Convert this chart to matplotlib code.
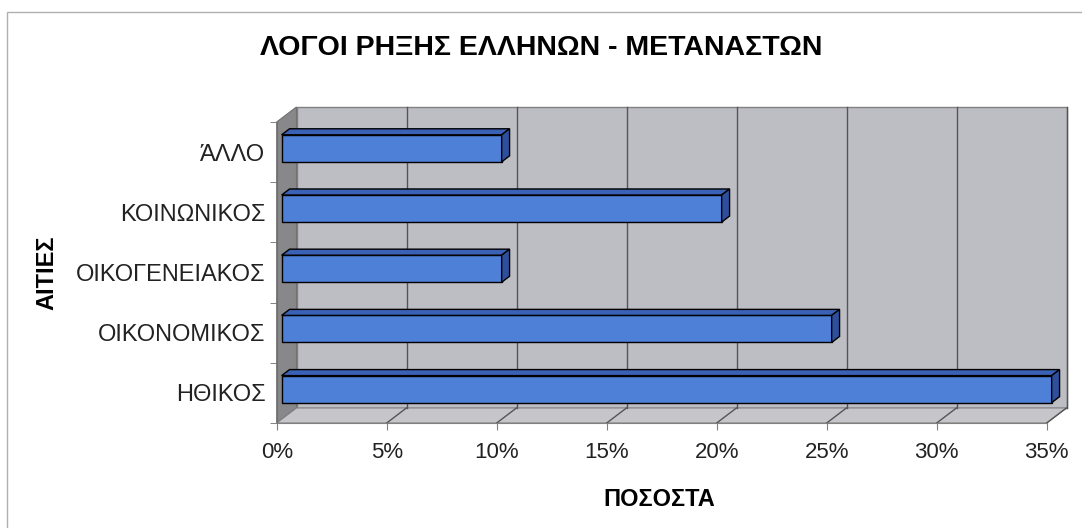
import matplotlib.pyplot as plt
from matplotlib.patches import Polygon, Rectangle

plt.rcParams['font.family'] = ['Liberation Sans', 'DejaVu Sans']

# data
categories = ['ΗΘΙΚΟΣ', 'ΟΙΚΟΝΟΜΙΚΟΣ', 'ΟΙΚΟΓΕΝΕΙΑΚΟΣ', 'ΚΟΙΝΩΝΙΚΟΣ', 'ΆΛΛΟ']
values = [35, 25, 10, 20, 10]
xticks = [0, 5, 10, 15, 20, 25, 30, 35]
xticklabels = ['0%', '5%', '10%', '15%', '20%', '25%', '30%', '35%']

title = 'ΛΟΓΟΙ ΡΗΞΗΣ ΕΛΛΗΝΩΝ - ΜΕΤΑΝΑΣΤΩΝ'
xlabel = 'ΠΟΣΟΣΤΑ'
ylabel = 'ΑΙΤΙΕΣ'

# 3d look: depth of the plot box in data units
dx, dy = 0.9, 0.25
bar_h = 0.45
b0, b1 = 0.25, 0.65   # bar front / back depth fractions

fig = plt.figure(figsize=(10.82, 5.28), dpi=100)
fig.patch.set_facecolor('white')

# chart frame
fig.add_artist(Rectangle((7 / 1082, -0.05), 1.1, 1 - 12 / 528 + 0.05,
                         transform=fig.transFigure, fill=False,
                         edgecolor='#b0b0b0', lw=1))

ax = fig.add_axes([276.7 / 1082, 105 / 528, 770 / 1082, 301 / 528])
ax.set_xlim(0, 35)
ax.set_ylim(-0.5, 4.5)
ax.patch.set_visible(False)
for s in ['top', 'right']:
    ax.spines[s].set_visible(False)
ax.spines['bottom'].set_color('#808080')
ax.spines['left'].set_color('#707070')

y0, y1 = -0.5, len(categories) - 0.5
xmax = xticks[-1]

# back wall
ax.add_patch(Polygon([(dx, y0 + dy), (xmax + dx, y0 + dy), (xmax + dx, y1 + dy), (dx, y1 + dy)],
                     closed=True, facecolor='#bdbdc4', edgecolor='#808080', lw=1,
                     clip_on=False, zorder=1))
# side wall
ax.add_patch(Polygon([(0, y0), (dx, y0 + dy), (dx, y1 + dy), (0, y1)],
                     closed=True, facecolor='#88888a', edgecolor='#707070', lw=0.8,
                     clip_on=False, zorder=1))
# floor
ax.add_patch(Polygon([(0, y0), (xmax, y0), (xmax + dx, y0 + dy), (dx, y0 + dy)],
                     closed=True, facecolor='#c6c6ca', edgecolor='#808080', lw=0.8,
                     clip_on=False, zorder=1))

# gridlines on wall and floor
for t in xticks[1:]:
    ax.plot([t + dx, t + dx], [y0 + dy, y1 + dy], color='#555555', lw=1, zorder=2, clip_on=False)
    ax.plot([t, t + dx], [y0, y0 + dy], color='#555555', lw=1, zorder=2, clip_on=False)

# bars
for i, v in enumerate(values):
    xa = b0 * dx
    xb = v + b0 * dx
    yb = i + b0 * dy - bar_h / 2
    yt = i + b0 * dy + bar_h / 2
    ddx = (b1 - b0) * dx
    ddy = (b1 - b0) * dy
    ax.barh(i + b0 * dy, v, left=xa, height=bar_h, color='#4f80d8',
            edgecolor='black', lw=1, zorder=5, clip_on=False)
    ax.add_patch(Polygon([(xa, yt), (xb, yt), (xb + ddx, yt + ddy), (xa + ddx, yt + ddy)],
                         closed=True, facecolor='#3a61b5', edgecolor='black', lw=1,
                         zorder=5, clip_on=False))
    ax.add_patch(Polygon([(xb, yb), (xb, yt), (xb + ddx, yt + ddy), (xb + ddx, yb + ddy)],
                         closed=True, facecolor='#2e4f9c', edgecolor='black', lw=1,
                         zorder=5, clip_on=False))

ax.set_xticks(xticks)
ax.set_xticklabels(xticklabels, fontsize=16, color='#222222')
ax.set_yticks(range(len(categories)))
ax.set_yticklabels(categories, fontsize=17, color='#222222')
ax.set_yticks([k - 0.5 for k in range(len(categories) + 1)], minor=True)
ax.tick_params(axis='y', which='major', length=0, pad=8)
ax.tick_params(axis='y', which='minor', length=5, color='#707070', direction='out')
ax.tick_params(axis='x', length=5, color='#808080', pad=9)

ax.set_xlabel(xlabel, fontsize=17, fontweight='bold')
ax.xaxis.set_label_coords(0.4965, -0.216)
ax.set_ylabel(ylabel, fontsize=17, fontweight='bold')
ax.yaxis.set_label_coords(-0.283, 0.5)

fig.text(0.5, 1 - 48 / 528, title, ha='center', va='center',
         fontsize=20.5, fontweight='bold', color='black')

fig.savefig('out.png', dpi=100)
